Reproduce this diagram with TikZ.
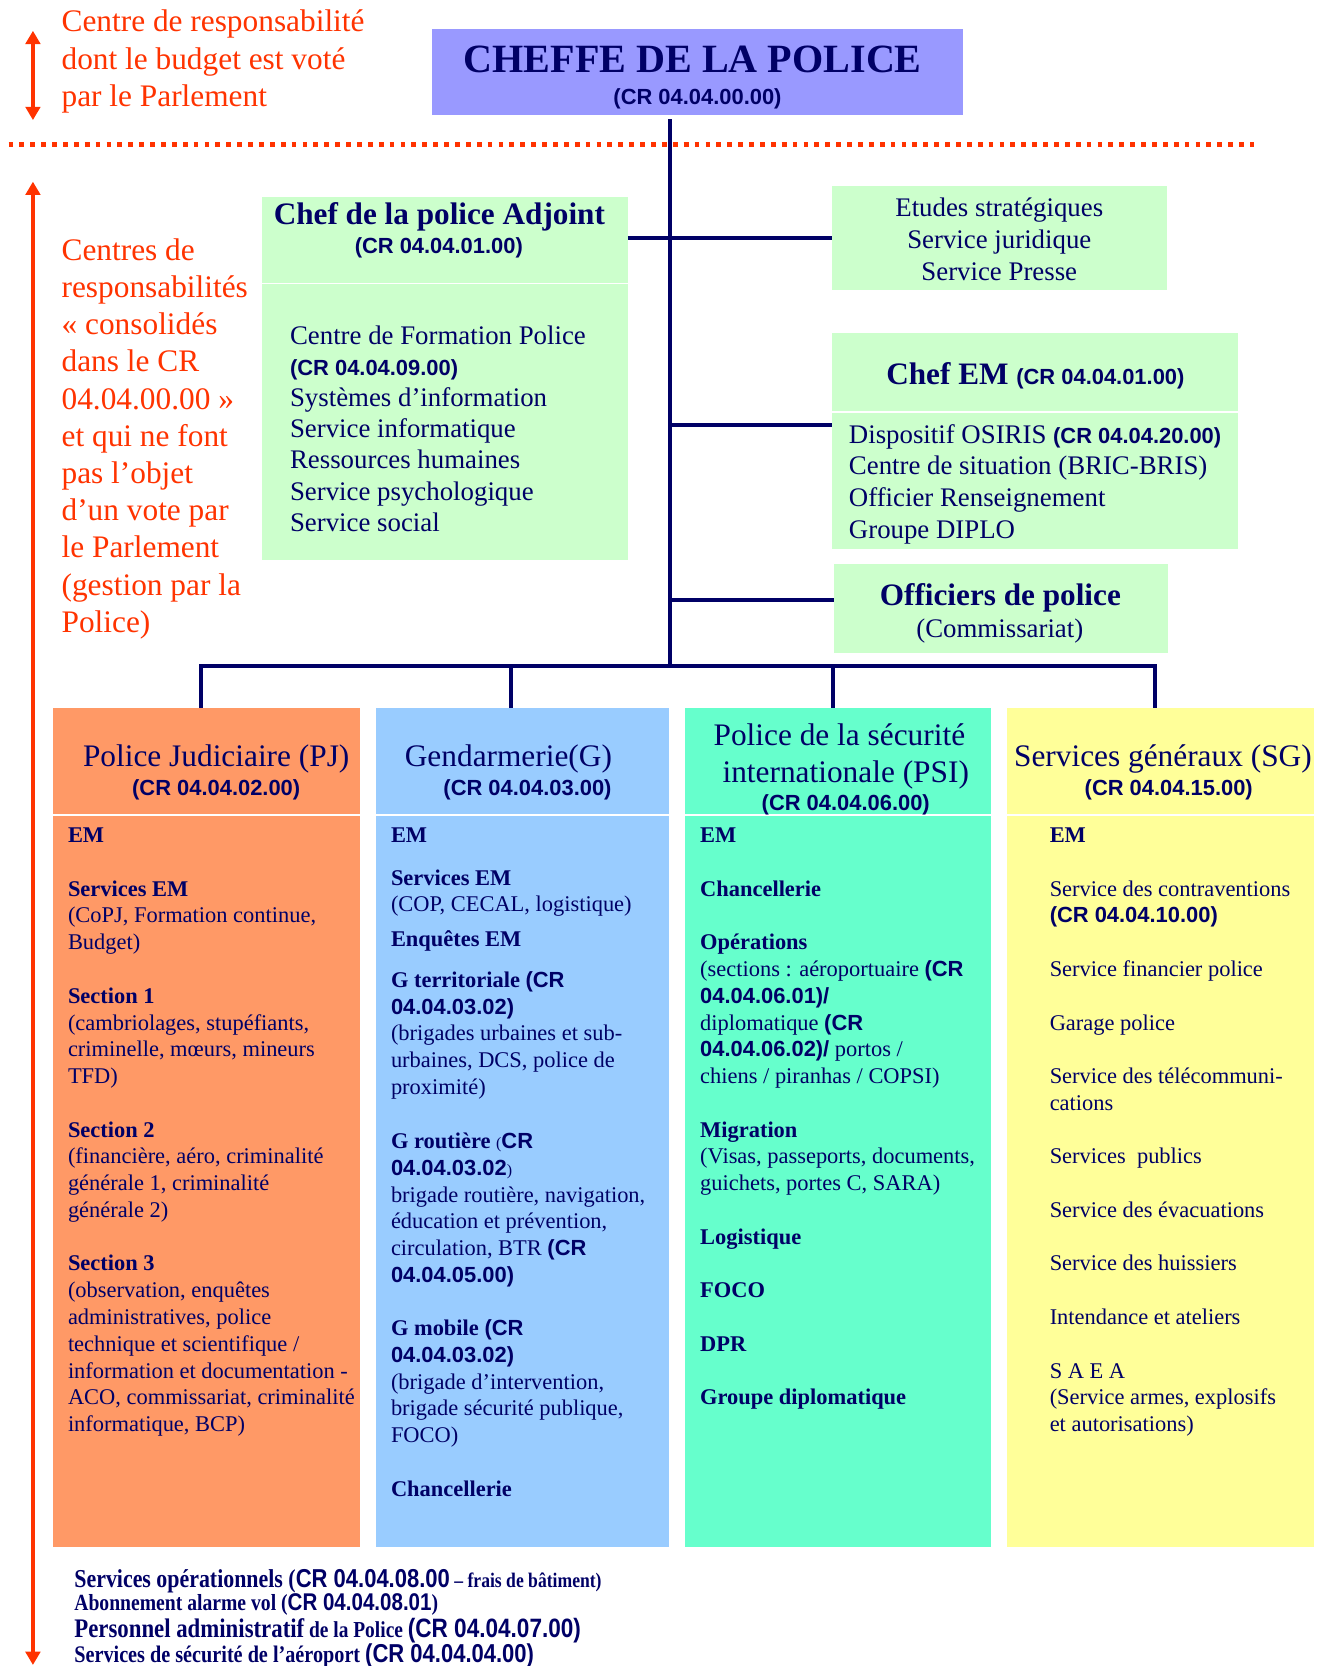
\documentclass[tikz,border=0pt]{standalone}
\usepackage{fontspec}
\setmainfont{Liberation Serif}
\newfontfamily\arialf{Liberation Sans}
\newfontfamily\condserif{Liberation Serif}[FakeStretch=0.85]
\newfontfamily\condsans{Liberation Sans}[FakeStretch=0.85]
\usetikzlibrary{arrows.meta}
\definecolor{navy}{HTML}{000066}
\definecolor{redo}{HTML}{FF3300}
\definecolor{chefblue}{HTML}{9999FF}
\definecolor{lgreen}{HTML}{CCFFCC}
\definecolor{pjorange}{HTML}{FF9966}
\definecolor{gblue}{HTML}{99CCFF}
\definecolor{psigreen}{HTML}{66FFCC}
\definecolor{sgyellow}{HTML}{FFFF99}
\newcommand\fsz[2]{\fontsize{#1}{#2}\selectfont}
\newcommand\crl[1]{{\arialf\bfseries\fontsize{16.5}{20}\selectfont #1}}
\newcommand\mystrut{\rule{0pt}{0.9em}}
\tikzset{
  every node/.style={inner sep=0pt, outer sep=0pt},
  conn/.style={draw=navy, line width=3pt},
  sepline/.style={draw=white, line width=1.2pt},
  body/.style={anchor=north west, align=left, text=navy, font={\fsz{16.9}{20.16}}},
  listt/.style={text=navy, font={\fsz{20.2}{23.45}}},
  head/.style={anchor=base, text=navy, font={\fsz{23.6}{28}}},
  crs/.style={anchor=base, text=navy, font={\arialf\bfseries\fsz{16.5}{20}}},
  redtxt/.style={anchor=north west, align=left, text=redo, font={\fsz{23.6}{28}}},
  redarrow/.style={draw=redo, line width=2.4pt, {Triangle[width=11pt,length=10pt]}-{Triangle[width=11pt,length=10pt]}},
  reddots/.style={draw=redo, line width=3.4pt, dash pattern=on 3.6pt off 4.6pt},
  bottomline/.style={anchor=base west, text=navy},
}
\begin{document}
\begin{tikzpicture}[x=0.8pt,y=-0.8pt]
\useasboundingbox (0,0) rectangle (1249,1568);
% ---------- boxes ----------
\node[fill=chefblue, minimum width=399.2pt, minimum height=64.8pt] (cheffe) at (656.5,67.5) {};
\node[fill=lgreen, minimum width=275.2pt, minimum height=273.6pt] (adjoint) at (419,356) {};
\node[fill=lgreen, minimum width=252pt, minimum height=78.4pt] (etudes) at (940.5,224) {};
\node[fill=lgreen, minimum width=305.6pt, minimum height=163.2pt] (chefem) at (974,415) {};
\node[fill=lgreen, minimum width=251.2pt, minimum height=67.2pt] (officiers) at (942,573) {};
\node[fill=pjorange, minimum width=231.2pt, minimum height=632pt] (pj) at (194.5,1061) {};
\node[fill=gblue, minimum width=220.8pt, minimum height=632pt] (gend) at (492,1061) {};
\node[fill=psigreen, minimum width=230.4pt, minimum height=632pt] (psi) at (789,1061) {};
\node[fill=sgyellow, minimum width=231.2pt, minimum height=632pt] (sg) at (1092.5,1061) {};
% separators
\coordinate (sepA) at (0,267);
\coordinate (sepE) at (0,388);
\coordinate (sepC) at (0,767);
\draw[sepline] (adjoint.west |- sepA) -- (adjoint.east |- sepA);
\draw[sepline] (chefem.west |- sepE) -- (chefem.east |- sepE);
\foreach \b in {pj,gend,psi,sg} \draw[sepline] (\b.west |- sepC) -- (\b.east |- sepC);
% ---------- red guides ----------
\coordinate (dotL) at (8,136);
\coordinate (dotR) at (1180,136);
\draw[reddots] (dotL) -- (dotR);
\coordinate (a1t) at (31,29);
\coordinate (a1b) at (31,113);
\draw[redarrow] (a1t) -- (a1b);
\coordinate (a2t) at (31,171);
\coordinate (a2b) at (31,1567);
\draw[redarrow] (a2t) -- (a2b);
% ---------- connectors ----------
\coordinate (spinebot) at (631,627);
\coordinate (emj) at (631,400);
\coordinate (offj) at (631,565);
\coordinate (busL) at (189,627);
\coordinate (busR) at (1087,627);
\coordinate (dropG) at (481,627);
\coordinate (dropP) at (784,627);
\draw[conn, shorten <=3.2pt] (spinebot |- cheffe.south) -- (spinebot);
\draw[conn] (adjoint.east |- etudes.west) -- (etudes.west);
\draw[conn] (emj) -- (emj -| chefem.west);
\draw[conn] (offj) -- (offj -| officiers.west);
\draw[conn] (busL |- pj.north) -- (busL) -- (busR) -- (busR |- sg.north);
\draw[conn] (dropG) -- (dropG |- gend.north);
\draw[conn] (dropP) -- (dropP |- psi.north);
% ---------- top texts ----------
\node[anchor=base, text=navy, font={\bfseries\fsz{30.2}{36}}] (cheffeT) at (652,68.5) {CHEFFE DE LA POLICE};
\node[crs] (cheffeCR) at (656.5,98.5) {(CR 04.04.00.00)};
\node[redtxt] (redtop) at (58,3.5) {\mystrut Centre de responsabilité\\dont le budget est voté\\par le Parlement};
\node[redtxt] (redleft) at (58,218.5) {\mystrut Centres de\\responsabilités\\« consolidés\\dans le CR\\04.04.00.00 »\\et qui ne font\\pas l’objet\\d’un vote par\\le Parlement\\(gestion par la\\Police)};
% adjoint
\node[anchor=base, text=navy, font={\bfseries\fsz{23.5}{28}}] (adjT) at (413.5,211) {Chef de la police Adjoint};
\node[crs] (adjCR) at (413,238.5) {(CR 04.04.01.00)};
\node[listt, anchor=north west, align=left] (adjL) at (273,301.3) {\mystrut Centre de Formation Police\\\crl{(CR 04.04.09.00)}\\Systèmes d’information\\Service informatique\\Ressources humaines\\Service psychologique\\Service social};
% etudes
\node[listt, anchor=north, align=center, font={\fsz{20.2}{24}}] (etT) at (940.5,181.3) {\mystrut Etudes stratégiques\\Service juridique\\Service Presse};
% chef EM
\node[anchor=base, text=navy, font={\fsz{23.5}{28}}] (emT) at (974.5,362) {\textbf{Chef EM} \crl{(CR 04.04.01.00)}};
\node[listt, anchor=north west, align=left, font={\fsz{20.2}{24}}] (emL) at (799,394.3) {\mystrut Dispositif OSIRIS \crl{(CR 04.04.20.00)}\\Centre de situation (BRIC-BRIS)\\Officier Renseignement\\Groupe DIPLO};
% officiers
\node[anchor=base, text=navy, font={\bfseries\fsz{23.5}{28}}] (offT) at (941.5,570) {Officiers de police};
\node[anchor=base, text=navy, font={\fsz{20.2}{24}}] (offS) at (941,600) {(Commissariat)};
% ---------- column headers ----------
\node[head] (pjT) at (203.5,721) {Police Judiciaire (PJ)};
\node[crs] (pjCR) at (203.5,748.5) {(CR 04.04.02.00)};
\node[head] (gT) at (478.5,721) {Gendarmerie(G)};
\node[crs] (gCR) at (496.5,748.5) {(CR 04.04.03.00)};
\node[head] (psiT1) at (790,702) {Police de la sécurité};
\node[head] (psiT2) at (796,736) {internationale (PSI)};
\node[crs] (psiCR) at (796,762.5) {(CR 04.04.06.00)};
\node[head] (sgT) at (1094.5,721) {Services généraux (SG)};
\node[crs] (sgCR) at (1100,748.5) {(CR 04.04.15.00)};
% ---------- column bodies ----------
\node[body] (pjB) at (64,774) {\mystrut\textbf{EM}\\[20.16pt]
\textbf{Services EM}\\
(CoPJ, Formation continue,\\
Budget)\\[20.16pt]
\textbf{Section 1}\\
(cambriolages, stupéfiants,\\
criminelle, mœurs, mineurs\\
TFD)\\[20.16pt]
\textbf{Section 2}\\
(financière, aéro, criminalité\\
générale 1, criminalité\\
générale 2)\\[20.16pt]
\textbf{Section 3}\\
(observation, enquêtes\\
administratives, police\\
technique et scientifique /\\
information et documentation -\\
ACO, commissariat, criminalité\\
informatique, BCP)};
\node[body] (gB) at (368,774) {\mystrut\textbf{EM}\\[11.8pt]
\textbf{Services EM}\\
(COP, CECAL, logistique)\\[5.6pt]
\textbf{Enquêtes EM}\\[11pt]
\textbf{G territoriale} \crl{(CR}\\
\crl{04.04.03.02)}\\
(brigades urbaines et sub-\\
urbaines, DCS, police de\\
proximité)\\[20.6pt]
\textbf{G routière} {\fontsize{12}{20}\selectfont(}\crl{CR}\\
\crl{04.04.03.02}{\fontsize{12}{20}\selectfont)}\\
brigade routière, navigation,\\
éducation et prévention,\\
circulation, BTR \crl{(CR}\\
\crl{04.04.05.00)}\\[19.8pt]
\textbf{G mobile} \crl{(CR}\\
\crl{04.04.03.02)}\\
(brigade d’intervention,\\
brigade sécurité publique,\\
FOCO)\\[20pt]
\textbf{Chancellerie}};
\node[body] (psiB) at (659,774) {\mystrut\textbf{EM}\\[20.16pt]
\textbf{Chancellerie}\\[20.16pt]
\textbf{Opérations}\\
(sections : aéroportuaire \crl{(CR}\\
\crl{04.04.06.01)/}\\
diplomatique \crl{(CR}\\
\crl{04.04.06.02)/} portos /\\
chiens / piranhas / COPSI)\\[20.16pt]
\textbf{Migration}\\
(Visas, passeports, documents,\\
guichets, portes C, SARA)\\[20.16pt]
\textbf{Logistique}\\[20.16pt]
\textbf{FOCO}\\[20.16pt]
\textbf{DPR}\\[20.16pt]
\textbf{Groupe diplomatique}};
\node[body] (sgB) at (988,774) {\mystrut\textbf{EM}\\[20.16pt]
Service des contraventions\\
\crl{(CR 04.04.10.00)}\\[20.16pt]
Service financier police\\[20.16pt]
Garage police\\[20.16pt]
Service des télécommuni-\\
cations\\[20.16pt]
Services\ \ publics\\[20.16pt]
Service des évacuations\\[20.16pt]
Service des huissiers\\[20.16pt]
Intendance et ateliers\\[20.16pt]
S A E A\\
(Service armes, explosifs\\
et autorisations)};
% ---------- bottom lines ----------
\node[bottomline] (bl1) at (70,1494) {{\condserif\bfseries\fsz{19.4}{22}Services opérationnels (}{\condsans\bfseries\fsz{19.5}{22}CR 04.04.08.00}{\condserif\bfseries\fsz{15.6}{22} – frais de bâtiment)}};
\node[bottomline] (bl2) at (70,1516) {{\condserif\bfseries\fsz{17.4}{22}Abonnement alarme vol (}{\condsans\bfseries\fsz{18.2}{22}CR 04.04.08.01}{\condserif\bfseries\fsz{17.4}{22})}};
\node[bottomline] (bl3) at (70,1541) {{\condserif\bfseries\fsz{20.2}{22}Personnel administratif}{\condserif\bfseries\fsz{17.2}{22} de la Police }{\condsans\bfseries\fsz{20}{22}(CR 04.04.07.00)}};
\node[bottomline] (bl4) at (70,1565) {{\condserif\bfseries\fsz{17.9}{22}Services de sécurité de l’aéroport }{\condsans\bfseries\fsz{19.5}{22}(CR 04.04.04.00)}};
\end{tikzpicture}
\end{document}
